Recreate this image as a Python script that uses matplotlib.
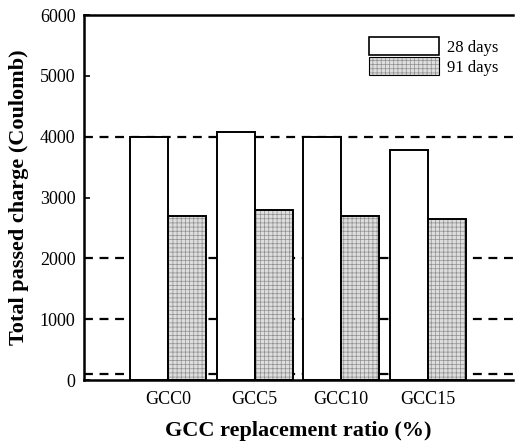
import matplotlib
matplotlib.use("Agg")
import matplotlib.pyplot as plt
from matplotlib.patches import Patch
from matplotlib.legend_handler import HandlerTuple
import numpy as np

categories = ["GCC0", "GCC5", "GCC10", "GCC15"]
days28 = [3990, 4080, 3990, 3785]
days91 = [2695, 2790, 2690, 2645]
ref_lines = [100, 1000, 2000, 4000]
yticks = [0, 1000, 2000, 3000, 4000, 5000, 6000]

plt.rcParams['font.family'] = ['Liberation Serif', 'DejaVu Serif']
plt.rcParams['hatch.linewidth'] = 0.5

fig = plt.figure(figsize=(5.15, 4.43), dpi=100)
ax = fig.add_axes([0.163, 0.142, 0.833, 0.824])

x = np.arange(len(categories))
w = 0.44
fill91 = '#dedede'
hatch91 = '#8f8f8f'

for y in ref_lines:
    ax.axhline(y, color='black', lw=1.6, ls=(0, (4, 3)), zorder=1)

ax.bar(x - w/2, days28, width=w, facecolor='white', edgecolor='black', lw=1.4, zorder=2)
ax.bar(x + w/2, days91, width=w, facecolor=fill91, edgecolor=hatch91, hatch='++++', lw=0, zorder=2)
ax.bar(x + w/2, days91, width=w, facecolor='none', edgecolor='black', lw=1.4, zorder=3)

h1 = Patch(facecolor='white', edgecolor='black', lw=1.2)
h2a = Patch(facecolor=fill91, edgecolor=hatch91, hatch='++++', lw=0)
h2b = Patch(facecolor='none', edgecolor='black', lw=0.8)
ax.legend([h1, (h2a, h2b)], ['28 days', '91 days'], loc='upper right', bbox_to_anchor=(0.965, 0.94),
          frameon=False, fontsize=12, handlelength=4.2, handleheight=1.3,
          handletextpad=0.45, labelspacing=0.1, borderpad=0, borderaxespad=0,
          handler_map={tuple: HandlerTuple(ndivide=1, pad=0)})

ax.set_xlim(-0.975, 3.985)
ax.set_ylim(0, 6000)
ax.set_xticks(x)
ax.set_xticklabels(categories, fontsize=13)
ax.set_yticks(yticks)
ax.set_yticklabels([str(v) for v in yticks], fontsize=13)
ax.tick_params(axis='x', length=0, pad=8)
ax.tick_params(axis='y', direction='in', length=4, width=1.2, pad=6)

ax.spines['right'].set_visible(False)
for s in ['left', 'bottom', 'top']:
    ax.spines[s].set_linewidth(1.8)

ax.set_xlabel('GCC replacement ratio (%)', fontsize=16, fontweight='bold', labelpad=9)
ax.set_ylabel('Total passed charge (Coulomb)', fontsize=16, fontweight='bold', labelpad=8)

fig.savefig('out.png', dpi=100)
